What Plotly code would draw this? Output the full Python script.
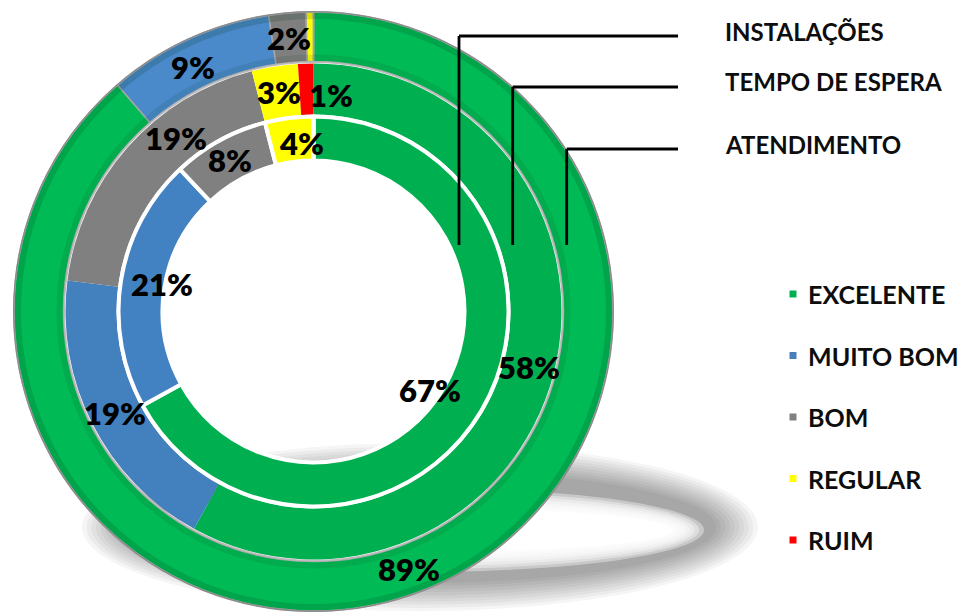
import math
import plotly.graph_objects as go

W, H = 963, 612

# ---------------- data ----------------
categories = ["EXCELENTE", "MUITO BOM", "BOM", "REGULAR", "RUIM"]
ring_names = ["INSTALAÇÕES", "TEMPO DE ESPERA", "ATENDIMENTO"]   # inner -> outer
instalacoes = [67, 21, 8, 4, 0]
tempo_espera = [58, 19, 19, 3, 1]
atendimento = [89, 9, 2, 0.4, 0]

# ---------------- styles / layout ----------------
legend_colors = ["#00B050", "#4A7EBB", "#808080", "#FFFF00", "#FF0000"]
ring_colors = {
    "INSTALAÇÕES": ["#00B050", "#4382C2", "#808080", "#FFFF00", "#FF0000"],
    "TEMPO DE ESPERA": ["#00B050", "#4280BE", "#808080", "#FFFF00", "#FF0000"],
    "ATENDIMENTO": ["#00BA55", "#4A8ACB", "#7F7F7F", "#FFFF00", "#FF0000"],
}
CX, CY = 313.5, 311.5           # pie centre in px (screen coords)
ring_geom = {                    # outer radius, inner radius (px)
    "INSTALAÇÕES": (195, 151),
    "TEMPO DE ESPERA": (248, 197),
    "ATENDIMENTO": (299.5, 250),
}
ring_line = {
    "INSTALAÇÕES": dict(color="white", width=4),
    "TEMPO DE ESPERA": dict(color="rgba(0,0,0,0)", width=0),
    "ATENDIMENTO": dict(color="#A6A6A6", width=1.5),
}
# small label nudges (px) mimicking the original label placement
label_nudge = {
    ("TEMPO DE ESPERA", "BOM"): (29, -26),
    ("TEMPO DE ESPERA", "RUIM"): (24, 6),
    ("INSTALAÇÕES", "EXCELENTE"): (-32, -10),
    ("INSTALAÇÕES", "MUITO BOM"): (19, 0),
    ("INSTALAÇÕES", "REGULAR"): (10, 3),
    ("ATENDIMENTO", "MUITO BOM"): (-6, 5),
}
leader = {   # vertical x, horizontal y (px)
    "INSTALAÇÕES": (459, 36),
    "TEMPO DE ESPERA": (512.7, 87),
    "ATENDIMENTO": (566.7, 149),
}
LEADER_BOTTOM, LEADER_RIGHT, NAME_X = 245, 678, 723

def px(x):
    return x / W

def py(y):
    return 1 - y / H

series = {"INSTALAÇÕES": instalacoes, "TEMPO DE ESPERA": tempo_espera,
          "ATENDIMENTO": atendimento}

fig = go.Figure()
annotations = []
shapes = []

# ---- shadow (blurred elliptical ring) ----
SCX, SCY = 420, 527
def ellipse(cx, cy, a, b, fill):
    return dict(type="circle", xref="paper", yref="paper",
                x0=px(cx - a), x1=px(cx + a), y0=py(cy + b), y1=py(cy - b),
                fillcolor=fill, line=dict(width=0), layer="below")
N = 10
for i in range(N):
    t = i / (N - 1)
    shapes.append(ellipse(SCX, SCY, 338 - 42 * t, 84 - 28 * t, "rgba(0,0,0,0.04)"))
M = 7
for i in range(M):
    t = i / (M - 1)
    shapes.append(ellipse(SCX, SCY + 3, 284 - 28 * t, 42 - 18 * t, "rgba(255,255,255,0.38)"))
shapes.append(ellipse(SCX, SCY + 3, 252, 22, "white"))

# ---- rings ----
for name in ["ATENDIMENTO", "TEMPO DE ESPERA", "INSTALAÇÕES"]:
    R, r = ring_geom[name]
    vals = series[name]
    fig.add_trace(go.Pie(
        values=vals, labels=categories, sort=False, direction="clockwise",
        rotation=0, hole=r / R, textinfo="none", showlegend=False,
        name=name, hoverinfo="label+value",
        domain=dict(x=[px(CX - R), px(CX + R)], y=[py(CY + R), py(CY - R)]),
        marker=dict(colors=ring_colors[name], line=ring_line[name]),
    ))
    total = sum(vals)
    cum = 0
    rl = (R + r) / 2
    for cat, v in zip(categories, vals):
        mid = (cum + v / 2) / total * 2 * math.pi
        cum += v
        if round(v) < 1:
            continue
        dx, dy = label_nudge.get((name, cat), (0, 0))
        x = CX + rl * math.sin(mid) + dx
        y = CY - rl * math.cos(mid) + dy
        annotations.append(dict(
            x=px(x), y=py(y), xref="paper", yref="paper", showarrow=False,
            text=f"{round(v)}%", xanchor="center", yanchor="middle",
            font=dict(family="Lato", size=31, color="black", weight=800)))

# ---- bevel / outlines on outer rings ----
def ring_circle(r, color, width):
    return dict(type="circle", xref="paper", yref="paper",
                xsizemode="pixel", ysizemode="pixel",
                xanchor=px(CX), yanchor=py(CY), x0=-r, x1=r, y0=-r, y1=r,
                line=dict(color=color, width=width),
                fillcolor="rgba(0,0,0,0)", layer="above")
shapes.append(ring_circle(295.5, "rgba(0,50,20,0.16)", 6))
shapes.append(ring_circle(254, "rgba(0,50,20,0.10)", 6))
shapes.append(ring_circle(299.8, "#8C8C8C", 1.5))
shapes.append(ring_circle(249.2, "#BDBDBD", 1.5))

# ---- leader lines + ring names ----
for name in ring_names:
    lx, ly = leader[name]
    shapes.append(dict(type="line", xref="paper", yref="paper",
                       x0=px(lx), x1=px(lx), y0=py(LEADER_BOTTOM), y1=py(ly),
                       line=dict(color="#000000", width=2.8), layer="above"))
    shapes.append(dict(type="line", xref="paper", yref="paper",
                       x0=px(lx), x1=px(LEADER_RIGHT), y0=py(ly), y1=py(ly),
                       line=dict(color="#000000", width=2.8), layer="above"))
    annotations.append(dict(
        x=px(NAME_X), y=py(ly - 5), xref="paper", yref="paper", showarrow=False,
        text=name, xanchor="left", yanchor="middle",
        font=dict(family="Lato", size=24, color="#0D0D0D", weight="bold")))

# ---- legend ----
LEG_X, LEG_TX, LEG_Y0, LEG_DY = 793, 806, 294, 61.5
for i, (cat, col) in enumerate(zip(categories, legend_colors)):
    yy = LEG_Y0 + i * LEG_DY
    shapes.append(dict(type="rect", xref="paper", yref="paper",
                       x0=px(LEG_X - 3.5), x1=px(LEG_X + 3.5),
                       y0=py(yy + 3.5), y1=py(yy - 3.5),
                       fillcolor=col, line=dict(width=0), layer="above"))
    annotations.append(dict(
        x=px(LEG_TX), y=py(yy), xref="paper", yref="paper", showarrow=False,
        text=cat, xanchor="left", yanchor="middle",
        font=dict(family="Lato", size=25, color="#0D0D0D", weight="bold")))

fig.update_layout(
    width=W, height=H, margin=dict(l=0, r=0, t=0, b=0),
    paper_bgcolor="white", plot_bgcolor="white",
    shapes=shapes, annotations=annotations, showlegend=False,
)
fig.write_html("out.html")
